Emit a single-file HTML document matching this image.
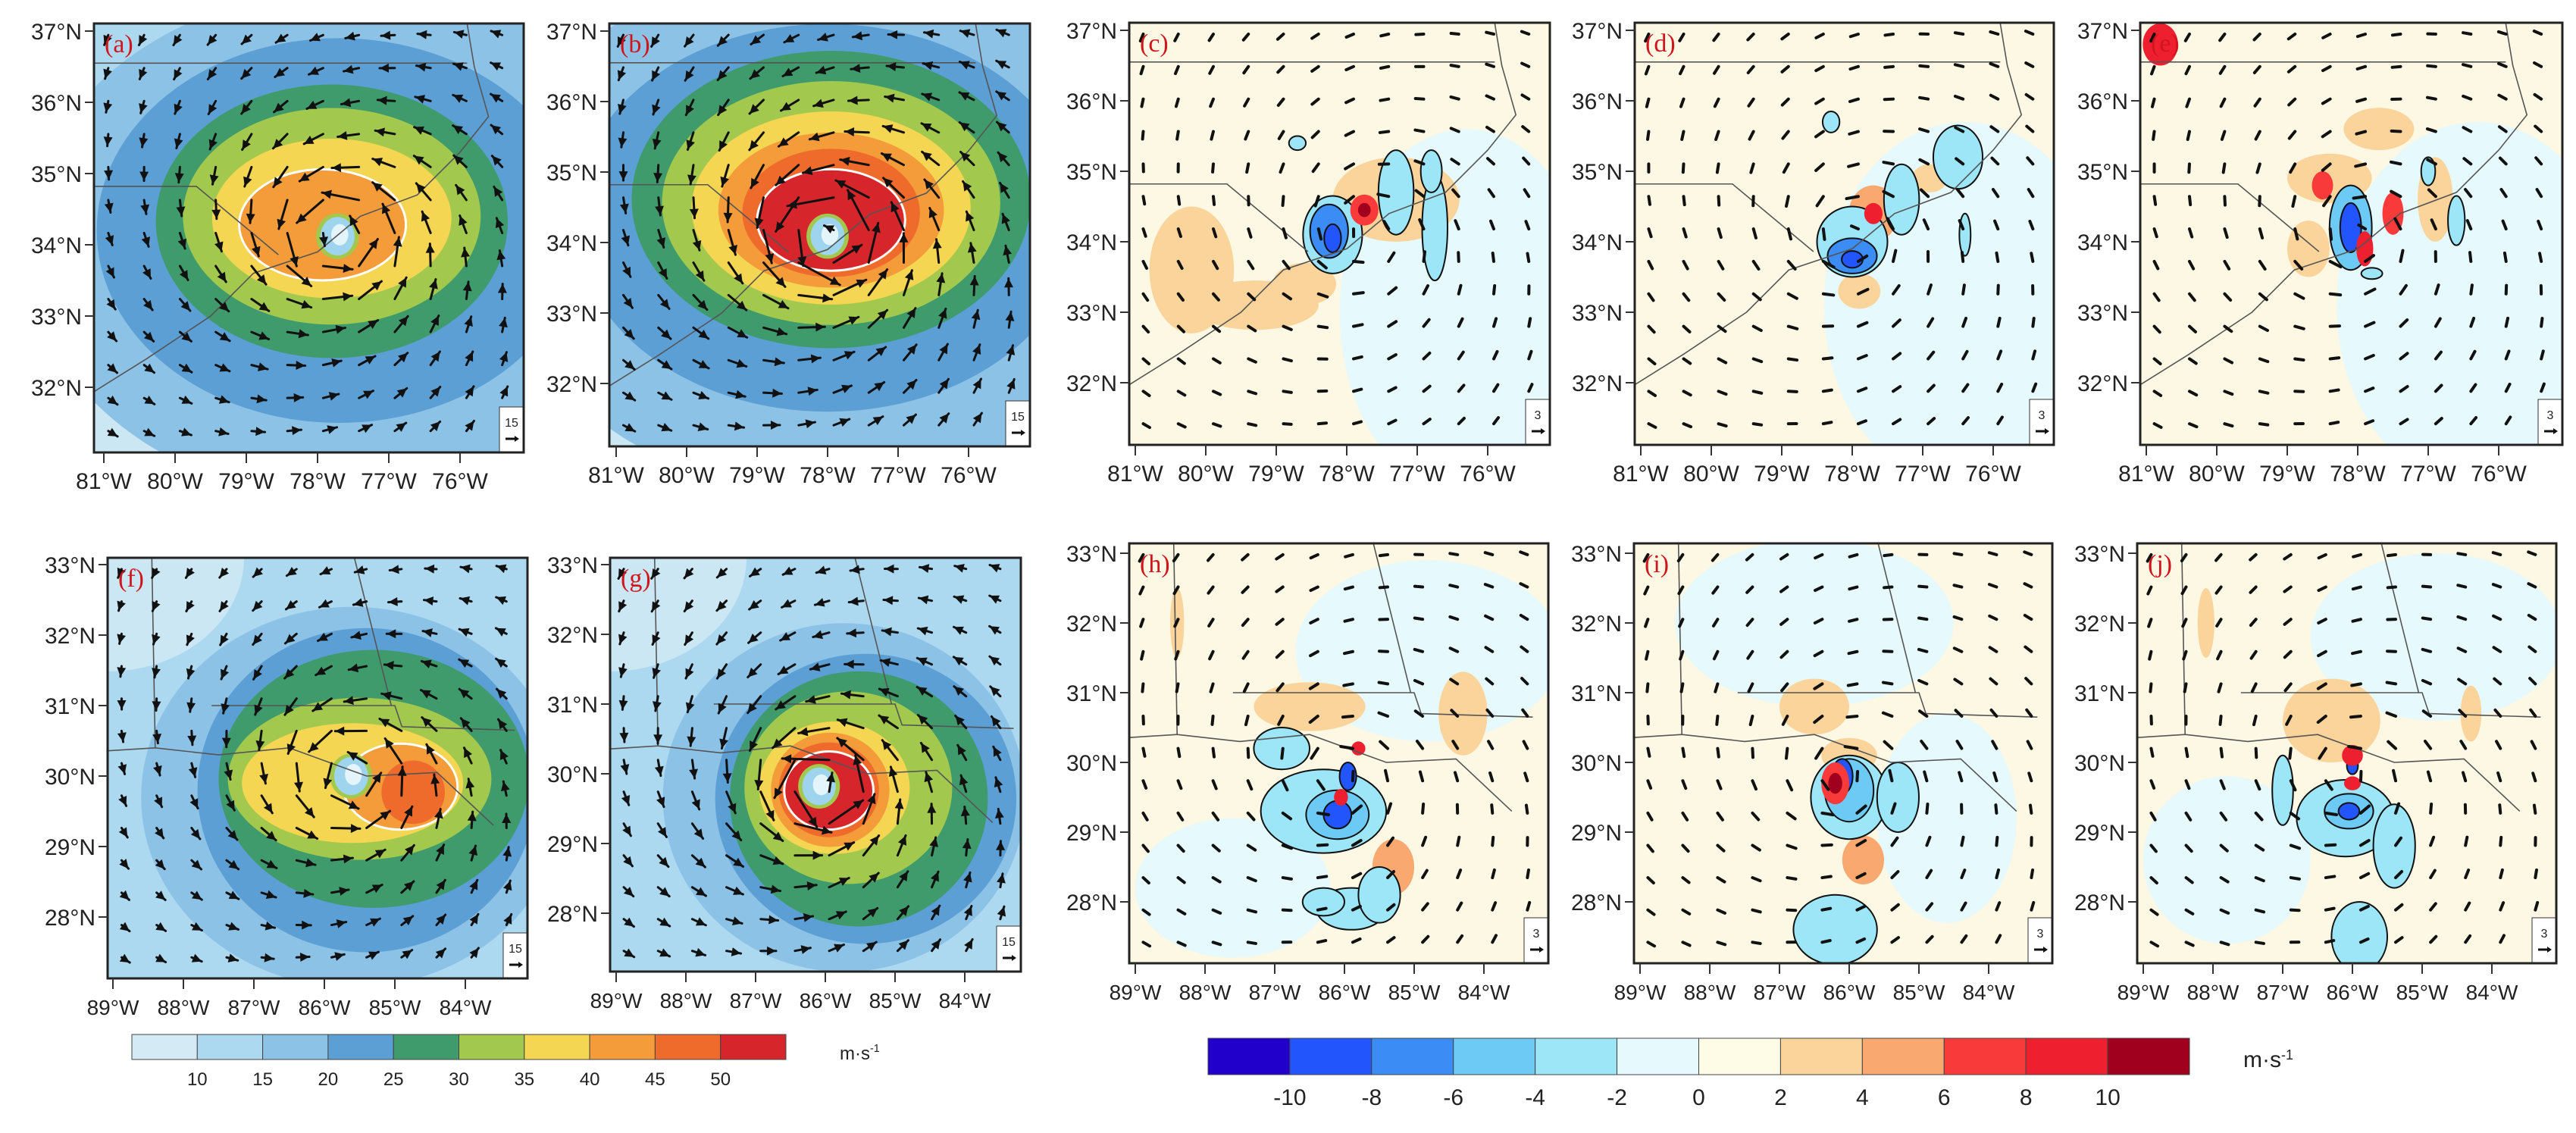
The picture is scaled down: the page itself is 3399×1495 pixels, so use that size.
<!DOCTYPE html>
<html><head><meta charset="utf-8">
<style>
html,body{margin:0;padding:0;background:#fff;}
svg{display:block;}
text{font-family:"Liberation Sans",sans-serif;fill:#222;}
</style></head>
<body>
<svg id="fig" xmlns="http://www.w3.org/2000/svg" width="3399" height="1495" viewBox="0 0 3399 1495"></svg>
<script>
// ---------- data ----------
const fieldThresholds=[10,15,20,25,30,35,40,45,50];
const fieldColors=['#d4eaf5','#acd9f0','#8dc2e7','#5c9fd5','#3f9b6b','#a2c94d','#f4d653','#f49c39','#ef6b2c','#d7262b'];
const anomTicks=[-10,-8,-6,-4,-2,0,2,4,6,8,10];
const anomColors=['#2200cc','#2255fb','#3b8cf5','#6ccaf5','#9de6f7','#e6f9fd','#fefbe6','#fad49a','#f9a870','#f93a3a','#ee2030','#a0001e'];
const latTicksTop=[37,36,35,34,33,32];
const lonTicksTop=[-81,-80,-79,-78,-77,-76];
const latTicksBot=[33,32,31,30,29,28];
const lonTicksBot=[-89,-88,-87,-86,-85,-84];

const aLevels=[15,20,25,30,35,40];
const aRx=[4.6,3.4,2.47,2.09,1.68,1.17];
const aRy=[3.6,2.7,1.92,1.52,1.12,0.78];
const aCx=[-77.5,-77.7,-77.8,-77.8,-77.8,-77.93];
const aCy=[34.0,34.2,34.33,34.4,34.37,34.28];
const bLevels=[15,20,25,30,35,40,45,50];
const bRx=[4.8,3.6,2.83,2.4,1.98,1.6,1.26,1.05];
const bRy=[3.8,2.75,2.11,1.73,1.37,1.1,0.91,0.72];
const bCx=[-77.9,-78.0,-77.95,-77.95,-77.95,-77.95,-77.95,-77.95];
const bCy=[34.2,34.35,34.61,34.56,34.49,34.46,34.42,34.32];
const fLevels=[15,20,25,30,35,40,45];
const fRx=[3.0,2.4,2.2,1.87,1.57,0.81,0.45];
const fRy=[2.7,2.3,1.83,1.15,0.85,0.61,0.45];
const fCx=[-85.6,-85.4,-85.3,-85.5,-85.6,-84.92,-84.74];
const fCy=[29.7,29.8,29.96,29.96,29.9,29.85,29.77];
const gLevels=[15,20,25,30,35,40,45,50];
const gRx=[2.6,2.16,1.85,1.49,1.08,0.85,0.72,0.64];
const gRy=[2.5,2.08,1.83,1.38,0.95,0.82,0.68,0.56];
const gCx=[-85.73,-85.42,-85.52,-85.67,-85.87,-85.93,-85.95,-85.95];
const gCy=[29.66,29.64,29.64,29.8,29.8,29.77,29.77,29.76];
const stormLon=[-77.72,-78.0,-85.62,-86.09];
const stormLat=[34.12,34.09,30.0,29.82];
const stormVmax=[42,52,42,54];
const stormRmax=[0.6,0.55,0.5,0.42];

const cBlobs=[[-76.3,33.0,1.8,2.6,-1],[-80.2,33.6,0.6,0.9,3],[-79.3,33.1,0.9,0.35,3],[-78.6,33.4,0.45,0.3,3],[-77.3,34.6,0.9,0.6,3],[-78.2,34.1,0.42,0.55,-4],[-78.25,34.15,0.27,0.38,-7],[-78.2,34.05,0.12,0.2,-10],[-77.3,34.7,0.25,0.6,-3],[-76.75,34.2,0.18,0.75,-3],[-76.8,35.0,0.15,0.3,-3],[-78.7,35.4,0.12,0.1,-3],[-77.75,34.45,0.2,0.22,7],[-77.75,34.45,0.09,0.1,10]];
const dBlobs=[[-76.4,33.1,2.0,2.6,-1],[-77.9,33.3,0.3,0.25,3],[-76.9,34.9,0.25,0.2,3],[-77.7,34.4,0.35,0.4,5],[-78.0,34.0,0.5,0.5,-4],[-78.0,33.8,0.35,0.25,-7],[-78.0,33.75,0.15,0.12,-10],[-77.7,34.4,0.13,0.15,9],[-77.3,34.6,0.25,0.5,-3],[-76.5,35.2,0.35,0.45,-3],[-78.3,35.7,0.12,0.15,-3],[-76.4,34.1,0.08,0.3,-3]];
const eBlobs=[[-76.3,33.1,2.0,2.6,-1],[-78.4,34.9,0.6,0.35,3],[-76.9,34.6,0.25,0.6,3],[-77.7,35.6,0.5,0.3,3],[-78.7,33.9,0.3,0.4,3],[-78.1,34.2,0.3,0.6,-5],[-78.1,34.2,0.15,0.35,-9],[-77.5,34.4,0.15,0.3,7],[-77.9,33.9,0.12,0.25,8],[-78.5,34.8,0.15,0.2,6],[-77.8,33.55,0.15,0.08,-4],[-76.6,34.3,0.12,0.35,-3],[-77.0,35.0,0.1,0.2,-3],[-80.8,36.8,0.25,0.3,8]];
const hBlobs=[[-84.8,31.6,1.9,1.3,-1],[-87.6,28.2,1.4,1.0,-1],[-86.5,30.8,0.8,0.35,3],[-84.3,30.7,0.35,0.6,3],[-85.3,28.5,0.3,0.4,4],[-88.4,32.0,0.1,0.5,3],[-86.3,29.3,0.9,0.6,-3],[-86.1,29.25,0.45,0.35,-6],[-86.1,29.25,0.2,0.2,-10],[-85.95,29.8,0.12,0.2,-9],[-86.05,29.5,0.1,0.12,9],[-85.8,30.2,0.1,0.1,8],[-86.9,30.2,0.4,0.3,-3],[-85.9,27.9,0.5,0.3,-3],[-85.5,28.1,0.3,0.4,-3],[-86.3,28.0,0.3,0.2,-3]];
const iBlobs=[[-86.5,32.0,2.0,1.2,-1],[-84.6,29.2,1.0,1.5,-1],[-86.5,30.8,0.5,0.4,3],[-86.0,30.1,0.4,0.25,3],[-85.8,28.6,0.3,0.35,5],[-86.0,29.5,0.55,0.6,-3],[-86.0,29.6,0.35,0.45,-6],[-86.1,29.8,0.15,0.25,-10],[-86.2,29.7,0.2,0.3,7],[-86.2,29.7,0.1,0.15,10],[-86.2,27.6,0.6,0.5,-3],[-85.3,29.5,0.3,0.5,-3]];
const jBlobs=[[-84.8,31.8,1.8,1.2,-1],[-87.8,28.6,1.2,1.2,-1],[-86.3,30.6,0.7,0.6,3],[-84.3,30.7,0.15,0.4,3],[-88.1,32.0,0.12,0.5,3],[-86.1,29.2,0.7,0.55,-3],[-86.05,29.3,0.35,0.25,-6],[-86.05,29.3,0.15,0.12,-9],[-86.0,29.95,0.08,0.12,-10],[-86.0,29.7,0.12,0.1,9],[-86.0,30.1,0.15,0.15,8],[-85.4,28.8,0.3,0.6,-3],[-85.9,27.5,0.4,0.5,-3],[-87.0,29.6,0.15,0.5,-3]];

const NS='http://www.w3.org/2000/svg';
const svg=document.getElementById('fig');
function mk(tag,attrs,parent){const e=document.createElementNS(NS,tag);for(const k in attrs)e.setAttribute(k,attrs[k]);(parent||svg).appendChild(e);return e;}

const panels=[
 {id:'a',type:'field',x0:124,y0:31,x1:691,y1:597,lonRef:-81,xRef:137,latRef:37,yRef:41,s:94,row:0,bg:'#acd9f0',lv:[aLevels,aRx,aRy,aCx,aCy],st:0,white:40},
 {id:'b',type:'field',x0:804,y0:31,x1:1359,y1:589,lonRef:-81,xRef:813,latRef:37,yRef:41,s:93,row:0,bg:'#acd9f0',lv:[bLevels,bRx,bRy,bCx,bCy],st:1,white:50},
 {id:'c',type:'anom',x0:1490,y0:30,x1:2045,y1:587,lonRef:-81,xRef:1498,latRef:37,yRef:40,s:93,row:0,blobs:cBlobs,st:0},
 {id:'d',type:'anom',x0:2157,y0:30,x1:2710,y1:587,lonRef:-81,xRef:2165,latRef:37,yRef:40,s:93,row:0,blobs:dBlobs,st:1},
 {id:'e',type:'anom',x0:2824,y0:30,x1:3381,y1:587,lonRef:-81,xRef:2832,latRef:37,yRef:40,s:93,row:0,blobs:eBlobs,st:1},
 {id:'f',type:'field',x0:142,y0:736,x1:696,y1:1291,lonRef:-89,xRef:149,latRef:33,yRef:745,s:93,row:1,bg:'#acd9f0',lv:[fLevels,fRx,fRy,fCx,fCy],st:2,white:40},
 {id:'g',type:'field',x0:805,y0:736,x1:1347,y1:1282,lonRef:-89,xRef:813,latRef:33,yRef:745,s:92,row:1,bg:'#acd9f0',lv:[gLevels,gRx,gRy,gCx,gCy],st:3,white:50},
 {id:'h',type:'anom',x0:1490,y0:717,x1:2043,y1:1271,lonRef:-89,xRef:1498,latRef:33,yRef:730,s:92,row:1,blobs:hBlobs,st:3},
 {id:'i',type:'anom',x0:2156,y0:717,x1:2708,y1:1271,lonRef:-89,xRef:2164,latRef:33,yRef:730,s:92,row:1,blobs:iBlobs,st:3},
 {id:'j',type:'anom',x0:2820,y0:717,x1:3373,y1:1271,lonRef:-89,xRef:2828,latRef:33,yRef:730,s:92,row:1,blobs:jBlobs,st:3}
];

function anomColor(v){let k=v<-10?0:Math.floor((v+10)/2)+1;if(k>11)k=11;if(k<0)k=0;return anomColors[k];}

const defs=mk('defs',{});
panels.forEach(P=>{
  const X=lon=>P.xRef+(lon-P.lonRef)*P.s;
  const Y=lat=>P.yRef-(lat-P.latRef)*P.s;
  const cp=mk('clipPath',{id:'clip-'+P.id},defs);
  mk('rect',{x:P.x0,y:P.y0,width:P.x1-P.x0,height:P.y1-P.y0},cp);
  const g=mk('g',{});
  
  
  const inner=mk('g',{'clip-path':'url(#clip-'+P.id+')'},g);
  
  
  const bg=mk('rect',{x:P.x0,y:P.y0,width:P.x1-P.x0,height:P.y1-P.y0,fill:P.type==='field'?P.bg:'#fdf8e4'},inner);
  
  
  if(P.type==='field'){
    const lc=mk('ellipse',{cx:P.x0,cy:P.row===0?P.y1:P.y0,rx:180,ry:150,fill:fieldColors[0],opacity:0.8},inner);
    
    
    const [L,RX,RY,CX,CY]=P.lv;
    L.forEach((th,i)=>{
      const ci=fieldThresholds.indexOf(th)+1;
      const e=mk('ellipse',{cx:X(CX[i]),cy:Y(CY[i]),rx:RX[i]*P.s,ry:RY[i]*P.s,fill:fieldColors[ci]},inner);
      
      
      if(th===P.white){e.setAttribute('stroke','#fff');e.setAttribute('stroke-width','3');}
    });
    const sx=X(stormLon[P.st]),sy=Y(stormLat[P.st]);
    const ring=mk('ellipse',{cx:sx,cy:sy,rx:0.3*P.s,ry:0.32*P.s,fill:'#a2c94d'},inner);
    
    
    const eye=mk('ellipse',{cx:sx,cy:sy,rx:0.24*P.s,ry:0.27*P.s,fill:'#9fd4ee'},inner);
    
    
    const eye2=mk('ellipse',{cx:sx+3,cy:sy-2,rx:0.12*P.s,ry:0.15*P.s,fill:'#e4f4fb'},inner);
    
    
  } else {
    P.blobs.forEach(b=>{
      const e=mk('ellipse',{cx:X(b[0]),cy:Y(b[1]),rx:b[2]*P.s,ry:b[3]*P.s,fill:anomColor(b[4])},inner);
      
      
      if(b[4]<=-3){e.setAttribute('stroke','#111');e.setAttribute('stroke-width','2');}
    });
  }
  let lines;
  if(P.row===0){
    lines=[[[-81.2,36.55],[-75.9,36.55]],[[-81.2,34.82],[-79.7,34.82],[-78.55,33.86]],[[-81.2,31.9],[-80.4,32.4],[-79.5,33.0],[-78.9,33.6],[-78.0,33.9],[-77.4,34.4],[-76.6,34.7],[-76.0,35.3],[-75.6,35.8],[-75.8,36.5],[-75.9,37.1]]];
  } else {
    lines=[[[-88.45,33.2],[-88.4,30.4]],[[-89.2,30.35],[-88.4,30.4],[-87.5,30.3],[-86.5,30.4],[-85.4,30.0],[-84.4,30.05],[-83.6,29.3]],[[-87.6,31.0],[-85.0,31.0],[-84.9,30.7],[-83.3,30.65]],[[-85.6,33.2],[-85.05,31.0]]];
  }
  lines.forEach(ln=>{
    const pl=mk('polyline',{points:ln.map(p=>X(p[0])+','+Y(p[1])).join(' '),fill:'none',stroke:'#555',"stroke-width":1.6},inner);
    
    
  });
  const slon=stormLon[P.st],slat=stormLat[P.st],vm=stormVmax[P.st],rm=stormRmax[P.st];
  const lon0=P.lonRef-(P.xRef-P.x0)/P.s, lat0=P.latRef+(P.yRef-P.y0)/P.s;
  const ncol=12,nrow=13,dx=(P.x1-P.x0)/ncol,dy=(P.y1-P.y0)/nrow;
  for(let r=0;r<nrow;r++)for(let c=0;c<ncol;c++){
    const px=P.x0+dx*(c+0.4),py=P.y0+dy*(r+0.35);
    const lon=lon0+(px-P.x0)/P.s,lat=lat0-(py-P.y0)/P.s;
    const ddx=(lon-slon),ddy=-(lat-slat);const rr=Math.sqrt(ddx*ddx+ddy*ddy)+1e-6;
    let v=rr<rm?vm*rr/rm:vm*Math.pow(rm/rr,0.65);
    let ux=ddy/rr,uy=-ddx/rr;
    ux-=0.35*ddx/rr;uy-=0.35*ddy/rr;const n=Math.hypot(ux,uy);ux/=n;uy/=n;
    let len;
    if(P.type==='field'){len=Math.max(8,Math.min(62,v*1.2));}
    else{len=8+Math.min(8,v*0.15);}
    const x2=px+ux*len,y2=py+uy*len;
    const ag=mk('g',{},inner);
    
    
    mk('line',{x1:px,y1:py,x2:x2,y2:y2,stroke:'#111','stroke-width':P.type==='field'?3:4,'stroke-linecap':'round'},ag);
    if(P.type==='field'){
      const hx=x2,hy=y2,bx=x2-ux*12,by=y2-uy*12;
      mk('polygon',{points:`${hx},${hy} ${bx-uy*6},${by+ux*6} ${bx+uy*6},${by-ux*6}`,fill:'#111'},ag);
    }
  }
  const rb=mk('g',{},g);
  
  
  mk('rect',{x:P.x1-32,y:P.y1-60,width:32,height:60,fill:'#fff',stroke:'#333','stroke-width':1},rb);
  const rt=mk('text',{x:P.x1-16,y:P.y1-34,'font-size':16,'text-anchor':'middle'},rb);
  rt.textContent=P.type==='field'?'15':'3';
  mk('line',{x1:P.x1-24,y1:P.y1-18,x2:P.x1-10,y2:P.y1-18,stroke:'#111','stroke-width':3},rb);
  mk('polygon',{points:`${P.x1-6},${P.y1-18} ${P.x1-12},${P.y1-22} ${P.x1-12},${P.y1-14}`,fill:'#111'},rb);
  const fr=mk('rect',{x:P.x0,y:P.y0,width:P.x1-P.x0,height:P.y1-P.y0,fill:'none',stroke:'#222','stroke-width':3},g);
  
  
  const lb=mk('text',{x:P.x0+14,y:P.y0+38,'font-size':34,style:'font-family:"Liberation Serif",serif;fill:#d0161c'},g);
  lb.textContent='('+P.id+')';
  
  
  const latT=P.row===0?latTicksTop:latTicksBot, lonT=P.row===0?lonTicksTop:lonTicksBot;
  latT.forEach(lt=>{
    const y=Y(lt);
    mk('line',{x1:P.x0-12,y1:y,x2:P.x0,y2:y,stroke:'#333','stroke-width':2},g);
    const t=mk('text',{x:P.x0-16,y:y+11,'font-size':30,'text-anchor':'end'},g);
    t.textContent=lt+'°N';
    
    
  });
  lonT.forEach(ln=>{
    const x=X(ln);
    mk('line',{x1:x,y1:P.y1,x2:x,y2:P.y1+14,stroke:'#333','stroke-width':2},g);
    const t=mk('text',{x:x,y:P.y1+48,'font-size':P.row===0?30:28,'text-anchor':'middle'},g);
    t.textContent=(-ln)+'°W';
    
    
  });
});

function colorbar(x0,y0,w,h,colors,labels,unitX,unitY,fs,name){
  const g=mk('g',{});
  
  
  const bw=w/colors.length;
  colors.forEach((c,i)=>{
    const r=mk('rect',{x:x0+i*bw,y:y0,width:bw,height:h,fill:c,stroke:'#444','stroke-width':1},g);
    
    
  });
  labels.forEach((l,i)=>{
    const t=mk('text',{x:x0+(i+1)*bw,y:y0+h+fs+10,'font-size':fs,'text-anchor':'middle'},g);
    t.textContent=l;
    
    
  });
  const u=mk('text',{x:unitX,y:unitY,'font-size':fs},g);
  u.innerHTML='m·s<tspan dy="-10" font-size="'+(fs*0.6)+'">-1</tspan>';
  
  
}
colorbar(174,1365,863,33,fieldColors,fieldThresholds,1108,1398,24,'wind-speed-colorbar');
colorbar(1594,1370,1295,48,anomColors,anomTicks,2960,1408,30,'wind-anomaly-colorbar');
</script>
</body></html>
